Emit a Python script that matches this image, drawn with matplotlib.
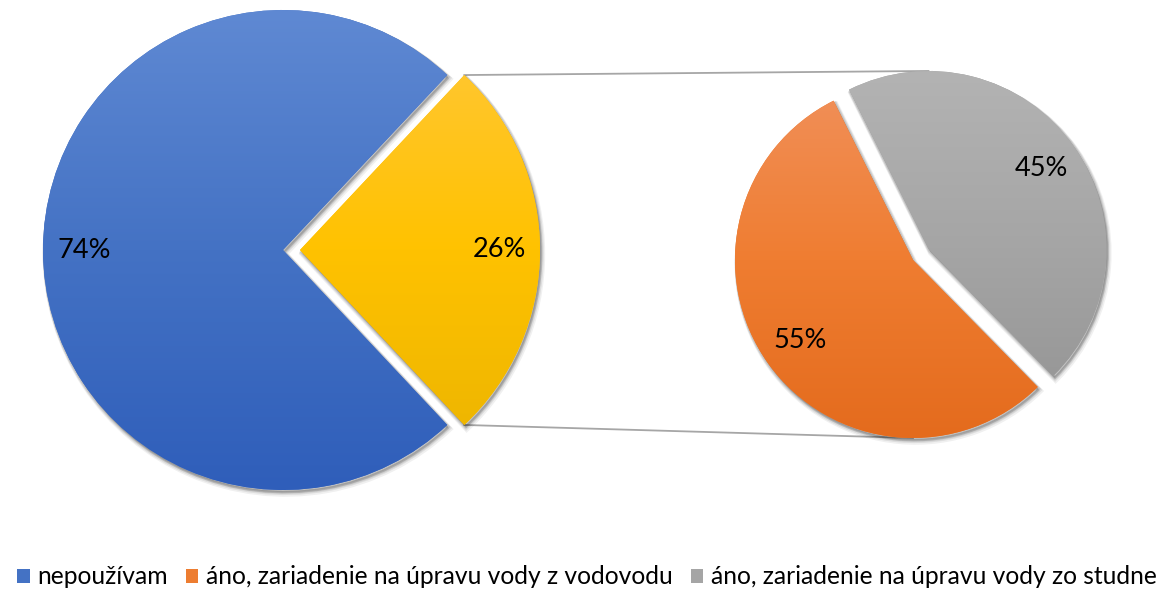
import numpy as np
import matplotlib
matplotlib.use("Agg")
import matplotlib.pyplot as plt
from matplotlib.patches import Patch, Wedge
from matplotlib.colors import LinearSegmentedColormap

# ---------------- data ----------------
main_labels = ["nepoužívam", "áno"]
main_values = [74, 26]
sub_labels = ["áno, zariadenie na úpravu vody z vodovodu",
              "áno, zariadenie na úpravu vody zo studne"]
sub_values = [55, 45]

# ---------------- style ----------------
plt.rcParams['font.family'] = ['Lato', 'DejaVu Sans']
W, H = 1164, 589
mid_colors = {"blue": "#4472C4", "yellow": "#FFC000", "orange": "#ED7D31", "gray": "#A5A5A5"}
grad_stops = {
    "blue": ("#5F89D3", "#4472C4", "#2F5EBA"),
    "yellow": ("#FFC83D", "#FFC200", "#E9B200"),
    "orange": ("#F1905A", "#EF7D31", "#E46B1D"),
    "gray": ("#B3B3B3", "#A5A5A5", "#939393"),
}

fig = plt.figure(figsize=(W / 100, H / 100), dpi=100)
ax = fig.add_axes([0, 0, 1, 1])
ax.set_axis_off()

left_center = (283, H - 250)
left_r = 240
right_center = (913, H - 260)
right_r = 178

wl, tl, al = ax.pie(main_values, center=left_center, radius=left_r,
                    startangle=360 * main_values[1] / 100 / 2, counterclock=True,
                    explode=[0, 17], autopct='%.0f%%', pctdistance=0.83,
                    colors=[mid_colors["blue"], mid_colors["yellow"]],
                    wedgeprops=dict(linewidth=0), frame=True,
                    textprops=dict(fontsize=19.5, color='black'))

wr, tr, ar = ax.pie(sub_values, center=right_center, radius=right_r,
                    startangle=116.5, counterclock=True,
                    explode=[0, 19], autopct='%.0f%%', pctdistance=0.78,
                    colors=[mid_colors["orange"], mid_colors["gray"]],
                    wedgeprops=dict(linewidth=0), frame=True,
                    textprops=dict(fontsize=19.5, color='black'))

grads = [(wl[0], "blue"), (wl[1], "yellow"), (wr[0], "orange"), (wr[1], "gray")]

for w, key in grads:
    cx, cy = w.center
    r = w.r
    # soft shadow
    for off, a in [(4, 0.06), (3, 0.08), (2, 0.10)]:
        sh = Wedge((cx + off * 0.6, cy - off), r, w.theta1, w.theta2,
                   facecolor="#000000", alpha=a, linewidth=off, edgecolor="#000000",
                   zorder=0.5)
        ax.add_patch(sh)
    w.set_zorder(1)
    top, mid, bot = grad_stops[key]
    cmap = LinearSegmentedColormap.from_list("g", [bot, mid, top])
    grad = np.linspace(0, 1, 256).reshape(-1, 1)
    im = ax.imshow(grad, cmap=cmap, origin='lower', aspect='auto',
                   extent=[cx - r, cx + r, cy - r, cy + r], zorder=1.5,
                   interpolation='bilinear')
    im.set_clip_path(w)

for t in list(al) + list(ar):
    t.set_zorder(3)

# connector lines from exploded yellow slice to second pie
yw = wl[1]
ycx, ycy = yw.center
top_pt = (ycx + yw.r * np.cos(np.radians(yw.theta2)), ycy + yw.r * np.sin(np.radians(yw.theta2)))
bot_pt = (ycx + yw.r * np.cos(np.radians(yw.theta1)), ycy + yw.r * np.sin(np.radians(yw.theta1)))
gw = wr[1]
ow = wr[0]
g_top = (gw.center[0], gw.center[1] + gw.r)
o_bot = (ow.center[0], ow.center[1] - ow.r)
ax.plot([top_pt[0], g_top[0]], [top_pt[1], g_top[1]], color="#A6A6A6", lw=1.3, zorder=0.2)
ax.plot([bot_pt[0], o_bot[0]], [bot_pt[1], o_bot[1]], color="#A6A6A6", lw=1.3, zorder=0.2)

ax.set_xlim(0, W)
ax.set_ylim(0, H)
ax.set_aspect('equal', adjustable='box')
ax.set_position([0, 0, 1, 1])

handles = [Patch(facecolor=mid_colors["blue"]),
           Patch(facecolor=mid_colors["orange"]),
           Patch(facecolor=mid_colors["gray"])]
leg_labels = [main_labels[0]] + sub_labels
fig.legend(handles, leg_labels, loc='center', bbox_to_anchor=((12 + 1162) / 2 / W, (H - 577) / H),
           ncol=3, frameon=False, fontsize=17.7, handlelength=0.5, handleheight=0.5,
           handletextpad=0.3, columnspacing=0.75, borderpad=0, borderaxespad=0)

fig.savefig("out.png", dpi=100)
